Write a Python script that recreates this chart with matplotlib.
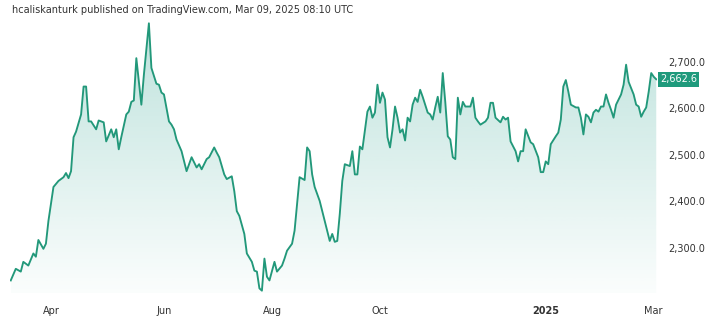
import numpy as np
import matplotlib
matplotlib.use("Agg")
import matplotlib.pyplot as plt
from matplotlib.patches import Polygon
import matplotlib.transforms as mtransforms

# ---- data (trading-day number since 2024-03-08, price) ----
start_date = "2024-03-08"
day = [0, 2, 4, 5, 7, 9, 10, 11, 13, 14, 15, 17, 19, 21, 22, 23, 24, 25, 26, 28,
       29, 30, 31, 32, 34, 35, 37, 38, 40, 41, 42, 43, 44, 46, 47, 48, 49, 50, 51, 52,
       53, 55, 56, 58, 59, 60, 61, 63, 64, 65, 66, 68, 69, 70, 72, 73, 74, 75, 76, 78,
       79, 81, 82, 83, 85, 86, 88, 89, 90, 91, 93, 94, 96, 97, 98, 99, 100, 101, 102, 103,
       105, 106, 108, 109, 110, 112, 113, 114, 115, 117, 118, 119, 120, 121, 123, 124, 125, 127, 128, 129,
       130, 131, 132, 133, 135, 136, 137, 138, 139, 140, 142, 143, 144, 145, 146, 147, 148, 149, 150, 151,
       152, 153, 154, 155, 156, 157, 158, 159, 160, 161, 162, 163, 164, 166, 167, 168, 169, 170, 171, 172,
       173, 174, 175, 176, 177, 178, 179, 180, 181, 183, 184, 185, 186, 187, 189, 190, 191, 192, 193, 195,
       196, 197, 198, 199, 201, 202, 203, 204, 205, 207, 208, 210, 211, 212, 213, 214, 215, 217, 218, 219,
       220, 221, 222, 223, 225, 226, 227, 228, 229, 230, 231, 232, 233, 234, 235, 236, 237, 238, 239, 240,
       241, 243, 244, 245, 246, 248, 249, 250, 251, 252, 253, 254, 255, 256, 257]
price = [2230, 2255, 2249, 2270, 2262, 2288, 2281, 2317, 2298, 2309, 2358, 2431, 2444, 2452, 2461, 2450, 2465, 2538, 2550, 2587,
         2647, 2647, 2572, 2572, 2555, 2574, 2570, 2529, 2555, 2538, 2555, 2512, 2538, 2587, 2593, 2614, 2617, 2708, 2657, 2608,
         2672, 2783, 2687, 2653, 2651, 2634, 2630, 2572, 2565, 2555, 2533, 2508, 2486, 2465, 2495, 2484, 2473, 2480, 2469, 2491,
         2495, 2516, 2505, 2495, 2458, 2448, 2454, 2422, 2379, 2369, 2330, 2288, 2270, 2251, 2249, 2213, 2208, 2277, 2238, 2230,
         2270, 2249, 2262, 2277, 2294, 2309, 2337, 2394, 2452, 2446, 2516, 2508, 2458, 2431, 2401, 2379, 2358, 2315, 2330, 2313,
         2315, 2373, 2444, 2480, 2476, 2508, 2458, 2458, 2518, 2512, 2593, 2604, 2580, 2591, 2651, 2612, 2634, 2619, 2538, 2516,
         2555, 2604, 2580, 2548, 2555, 2531, 2580, 2572, 2608, 2623, 2614, 2640, 2625, 2591, 2587, 2576, 2602, 2625, 2591, 2676,
         2614, 2540, 2533, 2495, 2491, 2623, 2587, 2614, 2604, 2604, 2623, 2580, 2572, 2565, 2572, 2580, 2612, 2612, 2580, 2570,
         2582, 2576, 2580, 2529, 2508, 2486, 2508, 2508, 2555, 2527, 2523, 2495, 2463, 2463, 2486, 2480, 2523, 2540, 2548, 2576,
         2647, 2661, 2636, 2608, 2602, 2602, 2580, 2544, 2587, 2582, 2570, 2591, 2597, 2593, 2604, 2604, 2630, 2612, 2597, 2580,
         2608, 2630, 2651, 2694, 2657, 2630, 2608, 2604, 2582, 2593, 2602, 2636, 2676, 2668, 2662.6]

month_starts = ["2024-04-01", "2024-06-01", "2024-08-01", "2024-10-01", "2025-01-01", "2025-03-01"]
month_labels = ["Apr", "Jun", "Aug", "Oct", "2025", "Mar"]
y_ticks = [2300, 2400, 2500, 2600, 2700]
title = "hcaliskanturk published on TradingView.com, Mar 09, 2025 08:10 UTC"

line_color = "#22987a"
text_color = "#333333"

x = np.array(day, dtype=float)
y = np.array(price, dtype=float)

fig = plt.figure(figsize=(7.26, 3.23), dpi=100)
ax = fig.add_axes([10 / 726, 1 - 293 / 323, (657 - 10) / 726, (293 - 14) / 323])

ymin, ymax = 2203, 2803
ax.set_ylim(ymin, ymax)
ax.set_xlim(x[0] - 0.3, x[-1] + 0.3)

# gradient fill under the line
verts = [(x[0], ymin)] + list(zip(x, y)) + [(x[-1], ymin)]
poly = Polygon(verts, closed=True, facecolor="none", edgecolor="none")
ax.add_patch(poly)
n = 256
grad = np.zeros((n, 1, 4))
base = np.array([38, 160, 140]) / 255.0
alphas = np.linspace(0.02, 0.30, n)
grad[:, 0, :3] = base
grad[:, 0, 3] = alphas
im = ax.imshow(grad, aspect="auto", origin="lower",
               extent=[x[0], x[-1], ymin, y.max()], zorder=1)
im.set_clip_path(poly)

ax.plot(x, y, color=line_color, lw=1.35, zorder=3, solid_joinstyle="round")

# axes styling
for s in ax.spines.values():
    s.set_visible(False)

ax.yaxis.tick_right()
ax.set_yticks(y_ticks)
ax.set_yticklabels([f"{v:,.1f}" for v in y_ticks])
ax.tick_params(axis="y", length=0, pad=8, labelsize=7, labelcolor=text_color)

tick_pos = [np.busday_count(start_date, np.busday_offset(m, 0, roll="forward")) for m in month_starts]
ax.set_xticks(tick_pos)
ax.set_xticklabels(month_labels)
ax.tick_params(axis="x", length=0, pad=9, labelsize=7, labelcolor=text_color)
for lbl in ax.get_xticklabels():
    if lbl.get_text() == "2025":
        lbl.set_fontweight("bold")

# last value label
trans = mtransforms.blended_transform_factory(ax.transAxes, ax.transData)
ax.text(1.0 + 3 / 647, y[-1], f"{y[-1]:,.1f}", transform=trans, ha="left", va="center",
        fontsize=7, color="white",
        bbox=dict(boxstyle="square,pad=0.25", facecolor="#1f9a7c", edgecolor="none"),
        clip_on=False, zorder=5)

fig.text(12 / 726, 1 - 10 / 323, title, fontsize=7, color=text_color, ha="left", va="center")

fig.savefig("out.png", dpi=100, facecolor="white")
